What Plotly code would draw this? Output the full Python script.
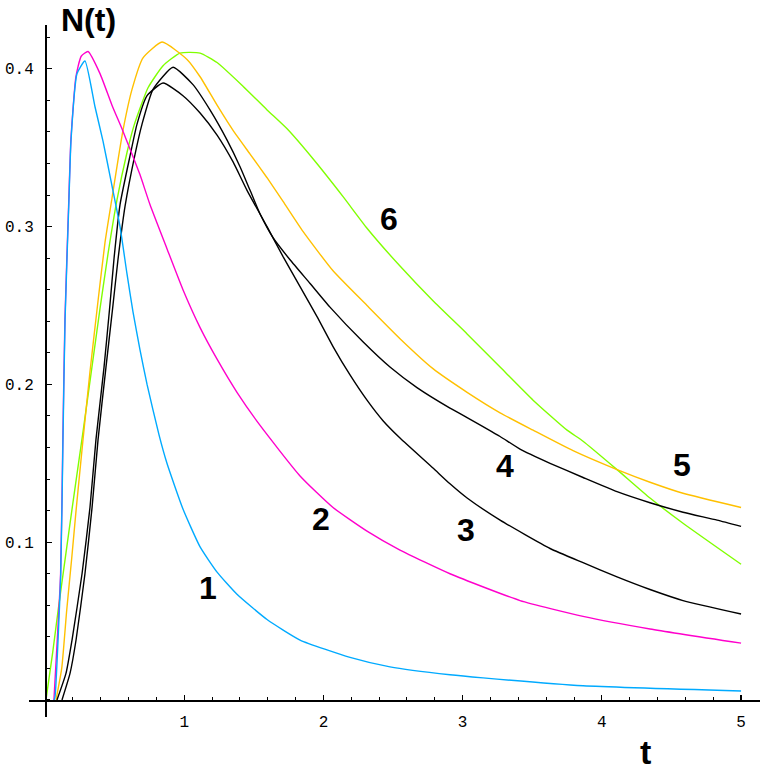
import plotly.graph_objects as go

# ---- data ----
t1 = [0.065, 0.072, 0.113, 0.129, 0.144, 0.172, 0.187, 0.230, 0.287, 0.359, 0.417, 0.474, 0.539, 0.589,
      0.632, 0.682, 0.733, 0.819, 0.876, 0.991, 1.114, 1.236, 1.379, 1.595, 1.832, 2.191, 2.478, 2.909,
      3.147, 3.865, 5.0]
n1 = [0.0, 0.002, 0.080, 0.165, 0.241, 0.317, 0.355, 0.397, 0.405, 0.376, 0.354, 0.329, 0.300, 0.270,
      0.246, 0.222, 0.200, 0.168, 0.150, 0.121, 0.097, 0.081, 0.067, 0.051, 0.038, 0.027, 0.021, 0.016,
      0.014, 0.009, 0.0057]

t2 = [0.064, 0.112, 0.128, 0.143, 0.171, 0.186, 0.222, 0.260, 0.309, 0.395, 0.481, 0.553, 0.625, 0.682,
      0.754, 0.876, 0.991, 1.114, 1.236, 1.379, 1.545, 1.832, 2.069, 2.313, 2.550, 2.909, 3.412, 3.865,
      4.346, 5.0]
n2 = [0.0, 0.080, 0.165, 0.241, 0.317, 0.355, 0.395, 0.408, 0.411, 0.397, 0.377, 0.362, 0.346, 0.333,
      0.314, 0.286, 0.260, 0.236, 0.216, 0.195, 0.174, 0.142, 0.122, 0.107, 0.095, 0.080, 0.063, 0.053,
      0.045, 0.036]

t3 = [0.086, 0.151, 0.194, 0.266, 0.323, 0.366, 0.424, 0.467, 0.496, 0.539, 0.611, 0.661, 0.733, 0.848,
      0.991, 1.114, 1.236, 1.351, 1.451, 1.595, 1.710, 1.832, 1.954, 2.069, 2.191, 2.313, 2.428, 2.550,
      2.787, 2.909, 3.032, 3.269, 3.628, 3.865, 4.109, 4.346, 4.583, 5.0]
n3 = [0.0, 0.017, 0.038, 0.080, 0.122, 0.165, 0.211, 0.251, 0.280, 0.314, 0.345, 0.365, 0.383, 0.391,
      0.383, 0.372, 0.358, 0.341, 0.323, 0.300, 0.281, 0.262, 0.243, 0.224, 0.206, 0.190, 0.177, 0.166,
      0.147, 0.137, 0.128, 0.114, 0.096, 0.087, 0.078, 0.070, 0.063, 0.0545]

t4 = [0.122, 0.180, 0.223, 0.287, 0.338, 0.381, 0.438, 0.488, 0.524, 0.575, 0.647, 0.697, 0.776, 0.920,
      1.063, 1.185, 1.307, 1.401, 1.473, 1.545, 1.638, 1.760, 1.904, 2.047, 2.284, 2.478, 2.672, 2.909,
      3.032, 3.269, 3.412, 3.628, 3.865, 4.109, 4.346, 4.583, 4.828, 5.0]
n4 = [0.0, 0.017, 0.038, 0.080, 0.122, 0.165, 0.211, 0.250, 0.279, 0.313, 0.346, 0.365, 0.387, 0.401,
      0.390, 0.374, 0.355, 0.338, 0.323, 0.308, 0.293, 0.279, 0.264, 0.249, 0.227, 0.211, 0.198, 0.185,
      0.179, 0.167, 0.159, 0.150, 0.141, 0.132, 0.125, 0.119, 0.114, 0.110]

t5 = [0.079, 0.120, 0.156, 0.192, 0.223, 0.273, 0.323, 0.381, 0.431, 0.481, 0.524, 0.560, 0.625, 0.704,
      0.841, 1.020, 1.114, 1.236, 1.351, 1.473, 1.595, 1.710, 1.853, 2.069, 2.313, 2.550, 2.787, 3.032,
      3.269, 3.506, 3.793, 4.109, 4.346, 4.583, 5.0]
n5 = [0.0, 0.020, 0.057, 0.090, 0.120, 0.165, 0.208, 0.253, 0.290, 0.318, 0.342, 0.361, 0.387, 0.407,
      0.417, 0.406, 0.395, 0.377, 0.361, 0.346, 0.331, 0.316, 0.297, 0.272, 0.250, 0.229, 0.210, 0.195,
      0.182, 0.171, 0.158, 0.146, 0.138, 0.131, 0.122]

t6 = [0.007, 0.055, 0.093, 0.144, 0.194, 0.244, 0.273, 0.345, 0.395, 0.453, 0.517, 0.589, 0.639, 0.740,
      0.848, 0.970, 1.114, 1.236, 1.422, 1.595, 1.739, 1.925, 2.141, 2.313, 2.550, 2.787, 3.032, 3.269,
      3.506, 3.750, 3.865, 4.109, 4.346, 4.583, 5.0]
n6 = [0.0, 0.030, 0.056, 0.089, 0.121, 0.152, 0.170, 0.216, 0.248, 0.283, 0.317, 0.347, 0.364, 0.388,
      0.402, 0.410, 0.410, 0.404, 0.389, 0.374, 0.362, 0.343, 0.319, 0.299, 0.275, 0.253, 0.232, 0.211,
      0.190, 0.171, 0.164, 0.146, 0.128, 0.112, 0.086]

curve_labels = ["1", "2", "3", "4", "5", "6"]
label_t = [1.171, 1.983, 3.024, 3.305, 4.576, 2.471]
label_n = [0.071, 0.1147, 0.1077, 0.148, 0.149, 0.305]

x_ticks = [1, 2, 3, 4, 5]
y_ticks = [0.1, 0.2, 0.3, 0.4]
y_tick_text = ["0.1", "0.2", "0.3", "0.4"]

series = [
    (t6, n6, "#80FF00"),
    (t5, n5, "#FFC000"),
    (t4, n4, "#000000"),
    (t3, n3, "#000000"),
    (t2, n2, "#FF00CC"),
    (t1, n1, "#00AAFF"),
]

fig = go.Figure()
for tx, ny, col in series:
    fig.add_trace(go.Scatter(x=tx, y=ny, mode="lines",
                             line=dict(color=col, width=1.4, shape="spline", smoothing=0.5),
                             showlegend=False, hoverinfo="skip"))

W, H = 763, 771
x_dom = [29 / W, 760 / W]
y_dom = [(H - 717) / H, (H - 25) / H]

fig.update_layout(
    width=W, height=H, autosize=False,
    margin=dict(l=0, r=0, t=0, b=0),
    paper_bgcolor="white", plot_bgcolor="white",
    xaxis=dict(domain=x_dom, range=[-0.115, 5.136], anchor="free", position=(H - 700) / H,
               showgrid=False, zeroline=False, showline=True, linecolor="black", linewidth=1.5,
               tickmode="array", tickvals=x_ticks, ticktext=[str(v) for v in x_ticks],
               ticks="inside", ticklen=5, tickwidth=1.2, tickcolor="black",
               minor=dict(dtick=0.2, tick0=0, ticks="inside", ticklen=3, tickwidth=1, tickcolor="black"),
               ticklabelstandoff=6,
               tickfont=dict(family="Liberation Mono", size=16, color="black")),
    yaxis=dict(domain=y_dom, range=[-0.0108, 0.4278], anchor="free", position=45 / W,
               showgrid=False, zeroline=False, showline=True, linecolor="black", linewidth=1.5,
               tickmode="array", tickvals=y_ticks, ticktext=y_tick_text,
               ticks="inside", ticklen=5, tickwidth=1.2, tickcolor="black",
               minor=dict(dtick=0.02, tick0=0, ticks="inside", ticklen=3, tickwidth=1, tickcolor="black"),
               ticklabelstandoff=8,
               tickfont=dict(family="Liberation Mono", size=16, color="black")),
)

for lab, lx, ly in zip(curve_labels, label_t, label_n):
    fig.add_annotation(x=lx, y=ly, xref="x", yref="y", text="<b>%s</b>" % lab, showarrow=False,
                       xanchor="center", yanchor="middle",
                       font=dict(family="Liberation Sans", size=32, color="black"))

fig.add_annotation(x=88 / W, y=(H - 20) / H, xref="paper", yref="paper", text="<b>N(t)</b>",
                   showarrow=False, xanchor="center", yanchor="middle",
                   font=dict(family="Liberation Sans", size=32, color="black"))
fig.add_annotation(x=645 / W, y=(H - 752) / H, xref="paper", yref="paper", text="<b>t</b>",
                   showarrow=False, xanchor="center", yanchor="middle",
                   font=dict(family="Liberation Sans", size=34, color="black"))

fig.write_html("out.html", config={"displayModeBar": False, "staticPlot": True},
               post_script="document.body.style.margin='0';document.body.style.overflow='hidden';")
